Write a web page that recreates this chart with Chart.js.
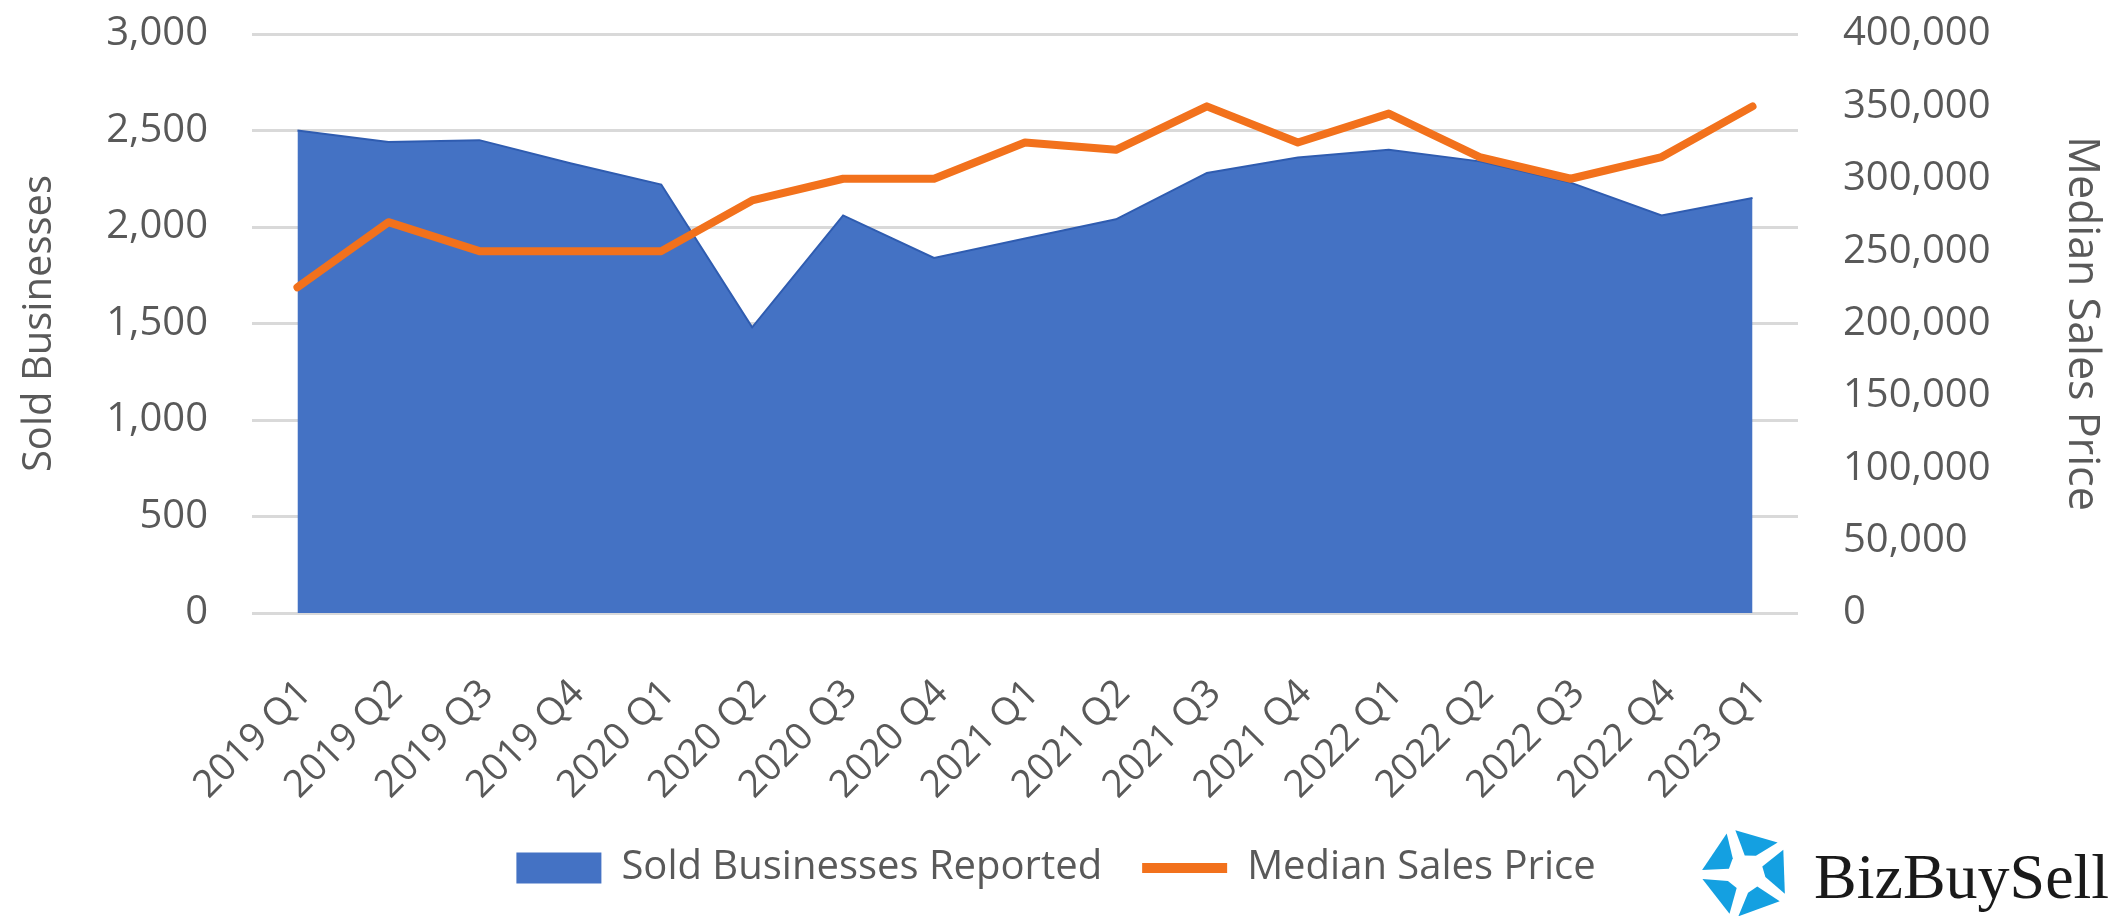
<!DOCTYPE html>
<html>
<head>
<meta charset="utf-8">
<title>Sold Businesses and Median Sales Price</title>
<script src="https://cdn.jsdelivr.net/npm/chart.js@4.4.1/dist/chart.umd.min.js"></script>
<style>
  html, body { margin: 0; padding: 0; background: #fff; }
  canvas { display: block; }
</style>
</head>
<body>
<canvas id="soldChart" width="2112" height="916"></canvas>
<script>
// Quarterly data
const quarters = [
  '2019 Q1', '2019 Q2', '2019 Q3', '2019 Q4',
  '2020 Q1', '2020 Q2', '2020 Q3', '2020 Q4',
  '2021 Q1', '2021 Q2', '2021 Q3', '2021 Q4',
  '2022 Q1', '2022 Q2', '2022 Q3', '2022 Q4',
  '2023 Q1'
]
const soldBusinesses = [
  2500, 2440, 2450, 2330,
  2220, 1480, 2060, 1840,
  1940, 2040, 2280, 2360,
  2400, 2340, 2230, 2060,
  2150
]
const medianSalesPrice = [
  225000, 270000, 250000, 250000,
  250000, 285000, 300000, 300000,
  325000, 320000, 350000, 325000,
  345000, 315000, 300000, 315000,
  350000
]
const soldTicks = [0, 500, 1000, 1500, 2000, 2500, 3000]
const priceTicks = [0, 50000, 100000, 150000, 200000, 250000, 300000, 350000, 400000]

const BLUE = '#4472C4'
const ORANGE = '#F2711C'
const TEXT = '#595959'
const FONT = "'Open Sans', 'Noto Sans', sans-serif"

const fmt = (v) => Number(v).toLocaleString('en-US')

// BizBuySell logo in the lower right corner
const logoPlugin = {
  id: 'logo',
  afterDraw(chart) {
    const ctx = chart.ctx
    ctx.save()
    const cx = 1746, cy = 873, R = 44
    ctx.fillStyle = '#14A0E1'
    const pt = (r, deg) => {
      const a = deg * Math.PI / 180
      return [cx + r * Math.cos(a), cy + r * Math.sin(a)]
    }
    for (let k = 0; k < 5; k++) {
      const base = -90 + k * 72 - 20
      const quad = [pt(R, base + 6), pt(R, base + 66), pt(R * 0.45, base + 50), pt(R * 0.4, base + 16)]
      ctx.beginPath()
      quad.forEach(([x, y], i) => i ? ctx.lineTo(x, y) : ctx.moveTo(x, y))
      ctx.closePath()
      ctx.fill()
    }
    ctx.fillStyle = '#1a1a1a'
    ctx.font = "64px 'Liberation Serif', 'DejaVu Serif', serif"
    ctx.textBaseline = 'alphabetic'
    ctx.textAlign = 'left'
    ctx.fillText('BizBuySell', 1814, 898)
    ctx.restore()
  }
}

// keep the plot area fixed, whatever the tick labels ask for
const fixVertical = (width) => (scale) => {
  scale.width = width
  scale.paddingTop = 0
  scale.paddingBottom = 0
}

const ctx = document.getElementById('soldChart').getContext('2d')

new Chart(ctx, {
  type: 'line',
  data: {
    labels: quarters,
    datasets: [{
      label: 'Sold Businesses Reported',
      data: soldBusinesses,
      yAxisID: 'y',
      fill: 'origin',
      backgroundColor: BLUE,
      borderColor: '#2F5CB0',
      borderWidth: 2,
      pointRadius: 0,
      tension: 0,
      order: 1
    }, {
      label: 'Median Sales Price',
      data: medianSalesPrice,
      yAxisID: 'y1',
      fill: false,
      borderColor: ORANGE,
      backgroundColor: ORANGE,
      borderWidth: 8,
      borderJoinStyle: 'round',
      borderCapStyle: 'round',
      pointRadius: 0,
      tension: 0,
      order: 0
    }]
  },
  options: {
    responsive: false,
    animation: false,
    devicePixelRatio: 1,
    layout: { padding: { top: 34, left: 0, right: 0, bottom: 18 } },
    plugins: {
      tooltip: { enabled: false },
      legend: {
        position: 'bottom',
        labels: {
          usePointStyle: true,
          pointStyleWidth: 85,
          boxHeight: 31,
          padding: 40,
          color: TEXT,
          font: { family: FONT, size: 40 },
          sort: (a, b) => a.datasetIndex - b.datasetIndex,
          generateLabels(chart) {
            const items = Chart.defaults.plugins.legend.labels.generateLabels(chart)
            items.forEach(item => {
              if (item.datasetIndex === 0) {
                item.pointStyle = 'rect'
                item.fillStyle = BLUE
                item.lineWidth = 0
              } else {
                item.pointStyle = 'line'
                item.strokeStyle = ORANGE
                item.lineWidth = 10
                item.lineCap = 'butt'
              }
            })
            return items
          }
        }
      }
    },
    scales: {
      x: {
        offset: true,
        grid: { display: false },
        border: { display: false },
        ticks: {
          autoSkip: false,
          minRotation: 45,
          maxRotation: 45,
          padding: 50,
          labelOffset: 8,
          color: TEXT,
          font: { family: FONT, size: 38 }
        },
        afterFit(scale) { scale.height = 195 }
      },
      y: {
        position: 'left',
        min: 0,
        max: 3000,
        afterBuildTicks(scale) { scale.ticks = soldTicks.map(v => ({ value: v })) },
        grid: { color: '#D9D9D9', lineWidth: 3, drawTicks: false },
        border: { display: false },
        ticks: {
          padding: 44,
          color: TEXT,
          font: { family: FONT, size: 40 },
          callback: fmt
        },
        title: {
          display: true,
          text: 'Sold Businesses',
          color: TEXT,
          font: { family: FONT, size: 40 },
          padding: { top: 16, bottom: 0 }
        },
        afterFit: fixVertical(252)
      },
      y1: {
        position: 'right',
        min: 0,
        max: 400000,
        afterBuildTicks(scale) { scale.ticks = priceTicks.map(v => ({ value: v })) },
        grid: { display: false, drawTicks: false },
        border: { display: false },
        ticks: {
          padding: 45,
          color: TEXT,
          font: { family: FONT, size: 40 },
          callback: fmt
        },
        title: {
          display: true,
          text: 'Median Sales Price',
          color: TEXT,
          font: { family: FONT, size: 43 },
          padding: { top: 5, bottom: 0 }
        },
        afterFit: fixVertical(314)
      }
    }
  },
  plugins: [logoPlugin]
})
</script>
</body>
</html>
